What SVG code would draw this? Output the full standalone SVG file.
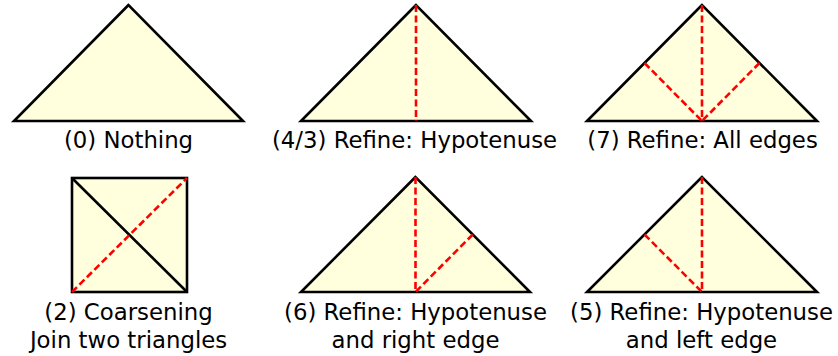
<svg xmlns="http://www.w3.org/2000/svg" width="838" height="356" viewBox="0 0 838 356">
<style>
.shape{fill:#ffffdd;stroke:#000;stroke-width:2.6;stroke-linejoin:miter}
.edge{fill:none;stroke:#000;stroke-width:2.6}
.ref{fill:none;stroke:#ff0000;stroke-width:2.6;stroke-dasharray:7,3.5}
.lbl{font-family:"DejaVu Sans",sans-serif;font-size:22.8px;fill:#000;text-anchor:middle}
</style>
<rect width="838" height="356" fill="#fff"/>
<g id="n0">
<polygon class="shape" points="128.5,5 14,121 243,121"/>
<text class="lbl" x="128.5" y="148">(0) Nothing</text>
</g>
<g id="n43">
<polygon class="shape" points="416,5 301,121 531,121"/>
<text class="lbl" x="414.5" y="148">(4/3) Refine: Hypotenuse</text>
</g>
<g id="n7">
<polygon class="shape" points="702,5 587,121 817,121"/>
<text class="lbl" x="702.5" y="148">(7) Refine: All edges</text>
</g>
<g id="n2">
<rect class="shape" x="72" y="178" width="115" height="114"/>
<text class="lbl" x="128.5" y="320">(2) Coarsening</text>
<text class="lbl" x="128.5" y="347.5">Join two triangles</text>
</g>
<g id="n6">
<polygon class="shape" points="415.5,177 301,292 530,292"/>
<text class="lbl" x="415.5" y="320">(6) Refine: Hypotenuse</text>
<text class="lbl" x="415.5" y="347.5">and right edge</text>
</g>
<g id="n5">
<polygon class="shape" points="702,177 587,292 817,292"/>
<text class="lbl" x="701.5" y="320">(5) Refine: Hypotenuse</text>
<text class="lbl" x="701.5" y="347.5">and left edge</text>
</g>
<g id="connectors">
<line class="ref" x1="416" y1="5" x2="416" y2="121"/>
<line class="ref" x1="702" y1="5" x2="702" y2="121"/>
<line class="ref" x1="644.5" y1="63" x2="702" y2="121"/>
<line class="ref" x1="759.5" y1="63" x2="702" y2="121"/>
<line class="edge" x1="72" y1="178" x2="187" y2="292"/>
<line class="ref" x1="72" y1="292" x2="187" y2="178"/>
<line class="ref" x1="415.5" y1="177" x2="415.5" y2="292"/>
<line class="ref" x1="472.75" y1="234.5" x2="415.5" y2="292"/>
<line class="ref" x1="702" y1="177" x2="702" y2="292"/>
<line class="ref" x1="644.5" y1="234.5" x2="702" y2="292"/>
</g>
</svg>
